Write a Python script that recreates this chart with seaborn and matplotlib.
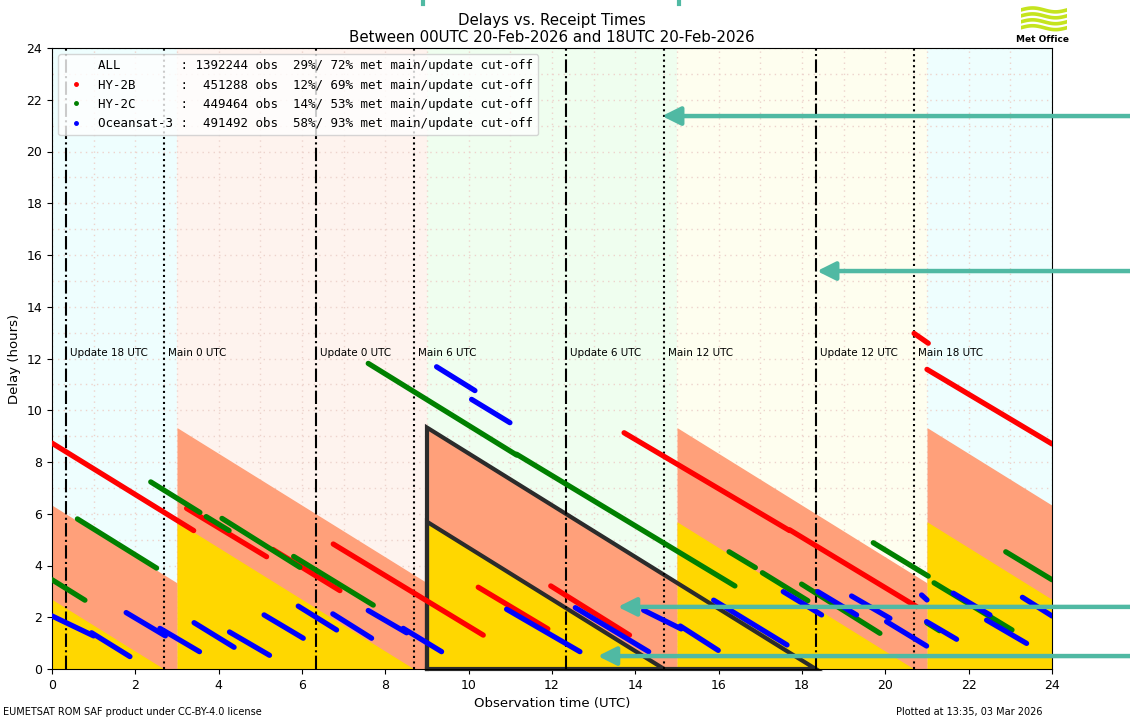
import numpy as np
import pandas as pd
import seaborn as sns
import matplotlib.pyplot as plt
from matplotlib.lines import Line2D

# analysis times (UTC) and cut-off offsets (hours after analysis time)
analysis_hours = [0, 6, 12, 18, 24]
main_cutoff = 2.69
update_cutoff = 6.33
window_colours = ["#EEFEFE", "#FEF3EE", "#EFFEEF", "#FEFEEF", "#EEFEFE"]

# segments: observation time start/end (h), delay start/end (h)
hy2b_t0 = [0.00, 3.23, 5.30, 6.75, 10.23, 11.97, 13.73, 17.70, 20.69, 21.00]
hy2b_t1 = [3.40, 5.15, 6.91, 10.35, 11.90, 13.86, 17.70, 20.75, 21.03, 24.00]
hy2b_d0 = [8.73, 6.21, 4.62, 4.83, 3.16, 3.21, 9.13, 5.38, 12.97, 11.58]
hy2b_d1 = [5.35, 4.34, 3.03, 1.31, 1.55, 1.31, 5.35, 2.41, 12.59, 8.70]

hy2c_t0 = [0.00, 0.61, 2.37, 3.70, 4.08, 5.80, 7.59, 11.15, 16.25, 17.05, 17.99, 19.71, 21.17, 21.00, 22.89]
hy2c_t1 = [0.79, 2.51, 3.55, 4.25, 5.95, 7.71, 11.15, 16.39, 16.88, 18.14, 19.87, 21.03, 23.04, 21.30, 24.00]
hy2c_d0 = [3.45, 5.80, 7.23, 5.89, 5.82, 4.35, 11.81, 8.30, 4.53, 3.72, 3.28, 4.88, 3.33, 1.78, 4.53]
hy2c_d1 = [2.66, 3.90, 6.05, 5.35, 3.93, 2.47, 8.27, 3.21, 3.92, 2.64, 1.38, 3.59, 1.51, 1.48, 3.45]

ocn3_t0 = [0.00, 0.95, 1.78, 2.59, 3.41, 4.26, 5.09, 5.91, 6.74, 7.59, 8.43, 9.23, 10.07, 10.91,
           12.56, 14.20, 15.08, 15.88, 17.55, 18.38, 19.19, 20.03, 20.87, 20.99, 21.63, 22.43, 23.29]
ocn3_t1 = [1.00, 1.87, 2.72, 3.54, 4.37, 5.22, 6.03, 6.83, 7.67, 8.51, 9.35, 10.15, 10.99, 12.67,
           14.32, 15.10, 15.99, 17.64, 18.47, 19.31, 20.11, 20.99, 21.00, 21.71, 22.51, 23.39, 24.00]
ocn3_d0 = [2.05, 1.40, 2.18, 1.57, 1.79, 1.43, 2.09, 2.43, 2.13, 2.26, 1.57, 11.68, 10.42, 2.31,
           2.37, 2.27, 1.66, 2.66, 2.99, 2.99, 2.82, 1.83, 2.86, 1.83, 2.93, 1.89, 2.77]
ocn3_d1 = [1.28, 0.48, 1.28, 0.67, 0.84, 0.53, 1.19, 1.51, 1.19, 1.40, 0.67, 10.76, 9.52, 0.67,
           0.67, 1.55, 0.72, 0.93, 2.09, 2.09, 1.96, 0.89, 2.67, 1.15, 2.09, 0.99, 2.05]

satellites = ["HY-2B", "HY-2C", "Oceansat-3"]
sat_colours = {"HY-2B": "red", "HY-2C": "green", "Oceansat-3": "blue"}
obs_counts = [1392244, 451288, 449464, 491492]
pct_main = [29, 12, 14, 58]
pct_update = [72, 69, 53, 93]

rows = []
for sat, t0, t1, d0, d1 in [("HY-2B", hy2b_t0, hy2b_t1, hy2b_d0, hy2b_d1),
                            ("HY-2C", hy2c_t0, hy2c_t1, hy2c_d0, hy2c_d1),
                            ("Oceansat-3", ocn3_t0, ocn3_t1, ocn3_d0, ocn3_d1)]:
    for i in range(len(t0)):
        rows.append((sat, f"{sat}_{i}", t0[i], d0[i]))
        rows.append((sat, f"{sat}_{i}", t1[i], d1[i]))
df = pd.DataFrame(rows, columns=["sat", "seg", "obs_time", "delay"])

fig = plt.figure(figsize=(11.3, 7.18), dpi=100)
ax = fig.add_axes([52 / 1130, 49 / 718, 1000 / 1130, 621 / 718])

# background windows and cut-off regions
for a, col in zip(analysis_hours, window_colours):
    ax.axvspan(a - 3, a + 3, color=col, lw=0, zorder=0.2)
    ax.fill_between([a - 3, a + 3], [update_cutoff + 3, update_cutoff - 3], 0,
                    color="#FFA07A", lw=0, zorder=1)
    ax.fill_between([a - 3, a + main_cutoff, a + 3], [main_cutoff + 3, 0, 0], 0,
                    color="#FFD700", lw=0, zorder=1.1)

# highlighted window triangles
a = 12
ax.plot([a - 3, a - 3, a + update_cutoff, a - 3], [0, update_cutoff + 3, 0, 0],
        color="#2B2B2B", lw=3, zorder=1.5, clip_on=False, solid_joinstyle="miter")
ax.plot([a - 3, a - 3, a + main_cutoff], [0, main_cutoff + 3, 0],
        color="#2B2B2B", lw=3, zorder=1.5, solid_joinstyle="miter")

# cut-off lines
for a in [0, 6, 12, 18]:
    xu = a + update_cutoff - 6
    xm = a + main_cutoff
    ax.axvline(xu, color="black", ls="-.", lw=1.5, zorder=2)
    ax.axvline(xm, color="black", ls=":", lw=1.5, zorder=2)
    ax.text(xu + 0.1, 12, f"Update {(a - 6) % 24} UTC", fontsize=7.5, va="bottom", zorder=2)
    ax.text(xm + 0.1, 12, f"Main {a} UTC", fontsize=7.5, va="bottom", zorder=2)

sns.lineplot(data=df, x="obs_time", y="delay", hue="sat", hue_order=satellites,
             units="seg", estimator=None, sort=False, palette=sat_colours,
             lw=3.8, solid_capstyle="round", legend=False, ax=ax, zorder=3)

ax.set_xlim(0, 24)
ax.set_ylim(0, 24)
ax.set_xticks(range(0, 25, 2))
ax.set_yticks(range(0, 25, 2))
ax.set_xticks(range(0, 25), minor=True)
ax.set_yticks(range(0, 25), minor=True)
ax.tick_params(which="minor", length=0)
ax.tick_params(labelsize=9)
ax.set_axisbelow(True)
ax.grid(True, which="both", ls=(0, (1, 3)), color="#EDD3CC", lw=1)
ax.set_xlabel("Observation time (UTC)", fontsize=9.5)
ax.set_ylabel("Delay (hours)", fontsize=9.5)
ax.set_title("Delays vs. Receipt Times\nBetween 00UTC 20-Feb-2026 and 18UTC 20-Feb-2026",
             fontsize=10.8, pad=4)

# legend
names = ["ALL"] + satellites
handles = [Line2D([], [], ls="none")]
handles += [Line2D([], [], ls="none", marker="o", ms=2.5, color=sat_colours[s]) for s in satellites]
labels = [f"{n:<11}: {c:7d} obs {p1:3d}%/{p2:3d}% met main/update cut-off"
          for n, c, p1, p2 in zip(names, obs_counts, pct_main, pct_update)]
ax.legend(handles, labels, loc="upper left", prop={"family": "DejaVu Sans Mono", "size": 9})

# annotation arrows
teal = "#50B9A3"
for xt, yt in [(14.64, 21.37), (18.36, 15.38), (13.58, 2.40), (13.10, 0.50)]:
    ax.annotate("", xy=(xt, yt), xytext=(1.0, yt), textcoords=("figure fraction", "data"),
                arrowprops=dict(arrowstyle="-|>,head_length=1.1,head_width=0.55", color=teal,
                                lw=3.2, shrinkA=0, shrinkB=0),
                annotation_clip=False, zorder=10)
for xp in [423, 679]:
    fig.add_artist(Line2D([xp / 1130] * 2, [1, 1 - 4 / 718], color=teal, lw=3,
                          transform=fig.transFigure))

# Met Office logo
lax = fig.add_axes([1021 / 1130, 686 / 718, 46 / 1130, 28 / 718])
xx = np.linspace(0, 1, 50)
for k in range(4):
    lax.plot(xx, k * 0.55 + 0.18 * np.sin(xx * 2 * np.pi), color="#C5E41E", lw=2.6)
lax.set_xlim(0, 1)
lax.set_ylim(-0.4, 2.2)
lax.axis("off")
fig.text(1043 / 1130, 1 - 39 / 718, "Met Office", fontsize=6.5, fontweight="bold",
         ha="center", va="center")

fig.text(3 / 1130, 1 - 712 / 718, "EUMETSAT ROM SAF product under CC-BY-4.0 license",
         fontsize=7, va="center")
fig.text(1043 / 1130, 1 - 712 / 718, "Plotted at 13:35, 03 Mar 2026",
         fontsize=7, va="center", ha="right")

fig.savefig("out.png", dpi=100)
